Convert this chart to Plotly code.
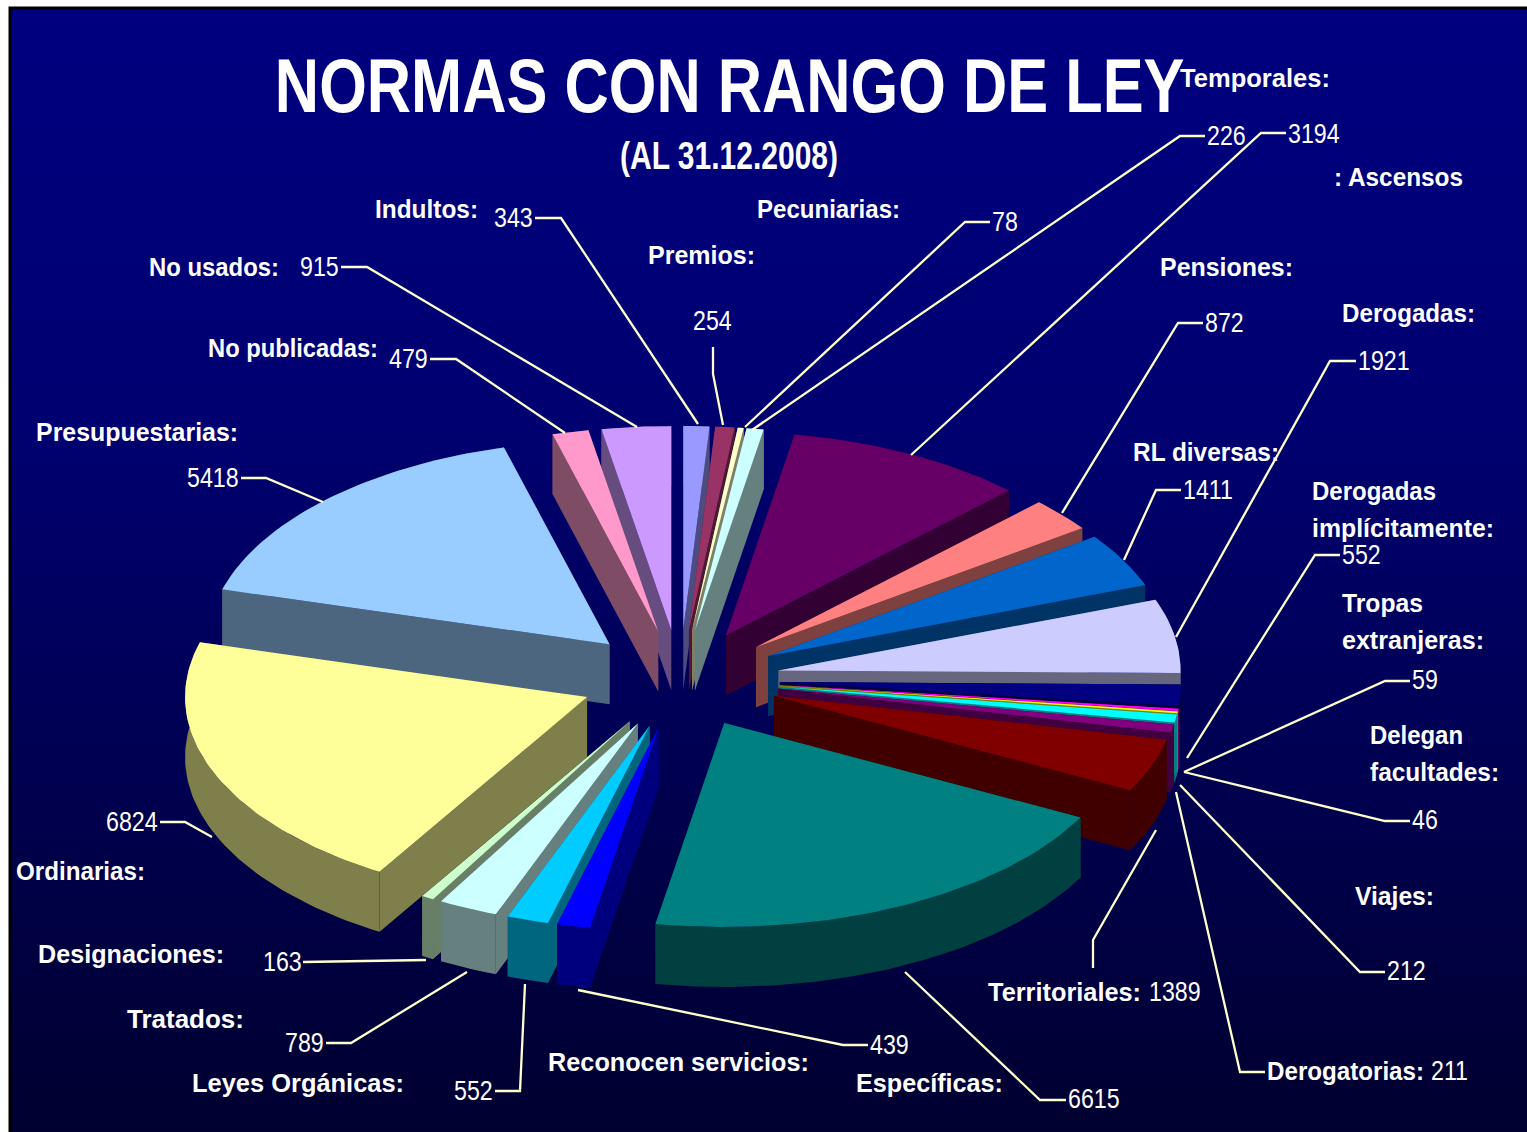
import json
import math
import plotly.graph_objects as go

# --- data -------------------------------------------------------------
slice_names = ["Indultos", "Premios", "Pecuniarias", "Temporales", "Ascensos", "Pensiones",
               "RL diversas", "Derogadas", "Derogadas implícitamente", "Tropas extranjeras",
               "Delegan facultades", "Viajes", "Derogatorias", "Territoriales", "Específicas",
               "Reconocen servicios", "Leyes Orgánicas", "Tratados", "Designaciones",
               "Ordinarias", "Presupuestarias", "No publicadas", "No usados"]
slice_values = [343, 254, 78, 226, 3194, 872, 1411, 1921, 552, 59, 46, 212, 211, 1389,
                6615, 439, 552, 789, 163, 6824, 5418, 479, 915]
slice_colors = ["#9999FF", "#993366", "#FFFFCC", "#CCFFFF", "#660066", "#FF8080", "#0066CC",
                "#CCCCFF", "#000080", "#FF00FF", "#FFFF00", "#00FFFF", "#800080", "#800000",
                "#008080", "#0000FF", "#00CCFF", "#CCFFFF", "#CCFFCC", "#FFFF99", "#99CCFF",
                "#FF99CC", "#CC99FF"]

# --- projection of the tilted pie ---------------------------------------
CX, CY = 680, 679
EXPLODE_X, EXPLODE_Y = 100, 49
RX, RY = 402, 204
DEPTH = 60
W, H = 1527, 1132
FONT = "Liberation Sans"


def shade(col):
    r, g, b = (int(col[i:i + 2], 16) for i in (1, 3, 5))
    return f"rgb({r // 2},{g // 2},{b // 2})"


fig = go.Figure()

# background gradient panel
fig.add_trace(go.Scatter(
    x=[10, W, W, 10, 10], y=[8, 8, H, H, 8], mode="lines", fill="toself",
    line=dict(width=0), hoverinfo="skip", showlegend=False,
    fillgradient=dict(type="vertical",
                      colorscale=[[0, "#000030"], [0.62, "#000070"], [1, "#000080"]])))

total = sum(slice_values)
slices = []
acc = 0
for name, value, color in zip(slice_names, slice_values, slice_colors):
    a0 = acc / total * 2 * math.pi
    acc += value
    a1 = acc / total * 2 * math.pi
    slices.append((name, value, color, a0, a1))


def apex_of(s):
    m = (s[3] + s[4]) / 2
    return CX + EXPLODE_X * math.sin(m), CY - EXPLODE_Y * math.cos(m)


def poly(xs, ys, color, name=None, text=None):
    fig.add_trace(go.Scatter(x=xs, y=ys, mode="lines", fill="toself", fillcolor=color,
                             line=dict(width=0), name=name, text=text,
                             hoverinfo="text" if text else "skip", showlegend=False))


for name, value, color, a0, a1 in sorted(slices, key=lambda s: apex_of(s)[1]):
    ax, ay = apex_of((name, value, color, a0, a1))
    n = max(3, int((a1 - a0) / 0.02))
    thetas = [a0 + (a1 - a0) * i / n for i in range(n + 1)]
    ex = [ax + RX * math.sin(t) for t in thetas]
    ey = [ay - RY * math.cos(t) for t in thetas]
    dark = shade(color)
    poly([ax, ex[0], ex[0], ax, ax], [ay, ey[0], ey[0] + DEPTH, ay + DEPTH, ay], dark)
    poly([ax, ex[-1], ex[-1], ax, ax], [ay, ey[-1], ey[-1] + DEPTH, ay + DEPTH, ay], dark)
    poly(ex + ex[::-1] + [ex[0]], ey + [v + DEPTH for v in ey[::-1]] + [ey[0]], dark)
    poly([ax] + ex + [ax], [ay] + ey + [ay], color, name, f"{name}: {value}")

# --- leader lines -------------------------------------------------------
leaders = [
    [(535, 218), (561, 218), (698, 424)],
    [(713, 347), (713, 374), (723, 425)],
    [(990, 222), (965, 222), (745, 427)],
    [(1205, 136), (1180, 136), (752, 430)],
    [(1286, 133), (1261, 133), (911, 455)],
    [(1203, 323), (1178, 323), (1062, 513)],
    [(1181, 490), (1156, 490), (1124, 560)],
    [(1356, 361), (1330, 361), (1176, 637)],
    [(1340, 555), (1315, 555), (1187, 758)],
    [(1410, 681), (1385, 681), (1184, 772)],
    [(1410, 821), (1385, 821), (1184, 772)],
    [(1385, 972), (1360, 972), (1180, 785)],
    [(1265, 1072), (1240, 1072), (1176, 792)],
    [(1093, 968), (1093, 940), (1156, 830)],
    [(1066, 1100), (1040, 1100), (905, 972)],
    [(868, 1045), (843, 1045), (578, 990)],
    [(495, 1091), (520, 1091), (525, 984)],
    [(326, 1043), (351, 1043), (467, 972)],
    [(303, 962), (426, 960)],
    [(160, 822), (185, 822), (212, 837)],
    [(241, 478), (266, 478), (323, 502)],
    [(430, 359), (456, 359), (565, 433)],
    [(341, 267), (367, 267), (637, 427)],
]
shapes = [dict(type="path", xref="x", yref="y",
               path="M" + " L".join(f"{x},{y}" for x, y in pts),
               line=dict(color="#FFFFCC", width=2.3), layer="above") for pts in leaders]
# frame of the panel
shapes.append(dict(type="path", xref="x", yref="y", path=f"M10,{H} L10,8 L{W},8",
                   line=dict(color="black", width=3), layer="above"))

# --- texts --------------------------------------------------------------
names = [
    ("Temporales:", 1180, 78), (": Ascensos", 1334, 177), ("Pecuniarias:", 757, 209),
    ("Premios:", 648, 255), ("Indultos:", 375, 209), ("No usados:", 149, 267),
    ("No publicadas:", 208, 348), ("Presupuestarias:", 36, 432), ("Pensiones:", 1160, 267),
    ("Derogadas:", 1342, 313), ("RL diversas:", 1133, 452), ("Derogadas", 1312, 491),
    ("implícitamente:", 1312, 528), ("Tropas", 1342, 603), ("extranjeras:", 1342, 640),
    ("Delegan", 1370, 735), ("facultades:", 1370, 772), ("Viajes:", 1355, 896),
    ("Derogatorias:", 1267, 1071), ("Territoriales:", 988, 992), ("Específicas:", 856, 1083),
    ("Reconocen servicios:", 548, 1062), ("Leyes Orgánicas:", 192, 1083), ("Tratados:", 127, 1019),
    ("Designaciones:", 38, 954), ("Ordinarias:", 16, 871),
]
name_widths = {
    "Temporales:": 150, ": Ascensos": 129, "Pecuniarias:": 143, "Premios:": 107, "Indultos:": 103,
    "No usados:": 130, "No publicadas:": 170, "Presupuestarias:": 202, "Pensiones:": 133,
    "Derogadas:": 133, "RL diversas:": 146, "Derogadas": 124, "implícitamente:": 182, "Tropas": 81,
    "extranjeras:": 142, "Delegan": 93, "facultades:": 129, "Viajes:": 79, "Derogatorias:": 157,
    "Territoriales:": 153, "Específicas:": 147, "Reconocen servicios:": 261, "Leyes Orgánicas:": 212,
    "Tratados:": 117, "Designaciones:": 186, "Ordinarias:": 129,
}
numbers = [
    ("226", 1207, 136), ("3194", 1288, 134), ("78", 992, 222), ("254", 693, 321),
    ("343", 494, 218), ("915", 300, 267), ("479", 389, 359), ("5418", 187, 478),
    ("872", 1205, 323), ("1921", 1358, 361), ("1411", 1183, 490), ("552", 1342, 555),
    ("59", 1412, 680), ("46", 1412, 820), ("212", 1387, 971), ("211", 1431, 1071),
    ("1389", 1149, 992), ("6615", 1068, 1099), ("439", 870, 1045), ("552", 454, 1091),
    ("789", 285, 1043), ("163", 263, 962), ("6824", 106, 822),
]
ann = []
for t, x, y in names:
    ann.append(dict(text=f"<b>{t}</b>", x=x - 2, y=y, xref="x", yref="y", xanchor="left", yanchor="middle",
                    showarrow=False, font=dict(family=FONT, size=25, color="white")))
for t, x, y in numbers:
    ann.append(dict(text=t, x=x - 2, y=y, xref="x", yref="y", xanchor="left", yanchor="middle",
                    showarrow=False, font=dict(family=FONT, size=27, color="white")))
ann.append(dict(text="<b>NORMAS CON RANGO DE LEY</b>", x=729, y=85, xref="x", yref="y", showarrow=False,
                xanchor="center", yanchor="middle", font=dict(family=FONT, size=76, color="white")))
ann.append(dict(text="<b>(AL 31.12.2008)</b>", x=729, y=156, xref="x", yref="y", showarrow=False,
                xanchor="center", yanchor="middle", font=dict(family=FONT, size=38, color="white")))

fig.update_layout(
    width=W, height=H, margin=dict(l=0, r=0, t=0, b=0), paper_bgcolor="white", plot_bgcolor="white",
    xaxis=dict(range=[0, W], visible=False, fixedrange=True),
    yaxis=dict(range=[H, 0], visible=False, fixedrange=True),
    shapes=shapes, annotations=ann, showlegend=False,
)

# The original's lettering is horizontally condensed; squeeze the real text elements.
post = """
document.body.style.margin = '0';
document.body.style.overflow = 'hidden';
var targetWidths = """ + json.dumps(name_widths, ensure_ascii=False) + """;
function squeeze() {
  document.querySelectorAll('.annotation-text').forEach(function (el) {
    var t = el.textContent, s = 1, centre = false;
    var b = el.getBBox();
    if (/^[0-9]+$/.test(t)) s = 0.86;
    else if (t.indexOf('NORMAS') === 0) { s = 0.807; centre = true; }
    else if (t.indexOf('(AL') === 0) { s = 0.79; centre = true; }
    else if (targetWidths[t]) s = targetWidths[t] / b.width;
    if (s === 1) return;
    var ox = b.x + (centre ? b.width / 2 : 0);
    el.setAttribute('transform', 'translate(' + ox + ',0) scale(' + s + ',1) translate(' + (-ox) + ',0)');
  });
}
squeeze();
var gd = document.getElementById('{plot_id}');
if (gd && gd.on) gd.on('plotly_afterplot', squeeze);
setTimeout(squeeze, 50);
setTimeout(squeeze, 300);
"""
fig.write_html("out.html", config={"displayModeBar": False},
               default_width=f"{W}px", default_height=f"{H}px", post_script=post)
